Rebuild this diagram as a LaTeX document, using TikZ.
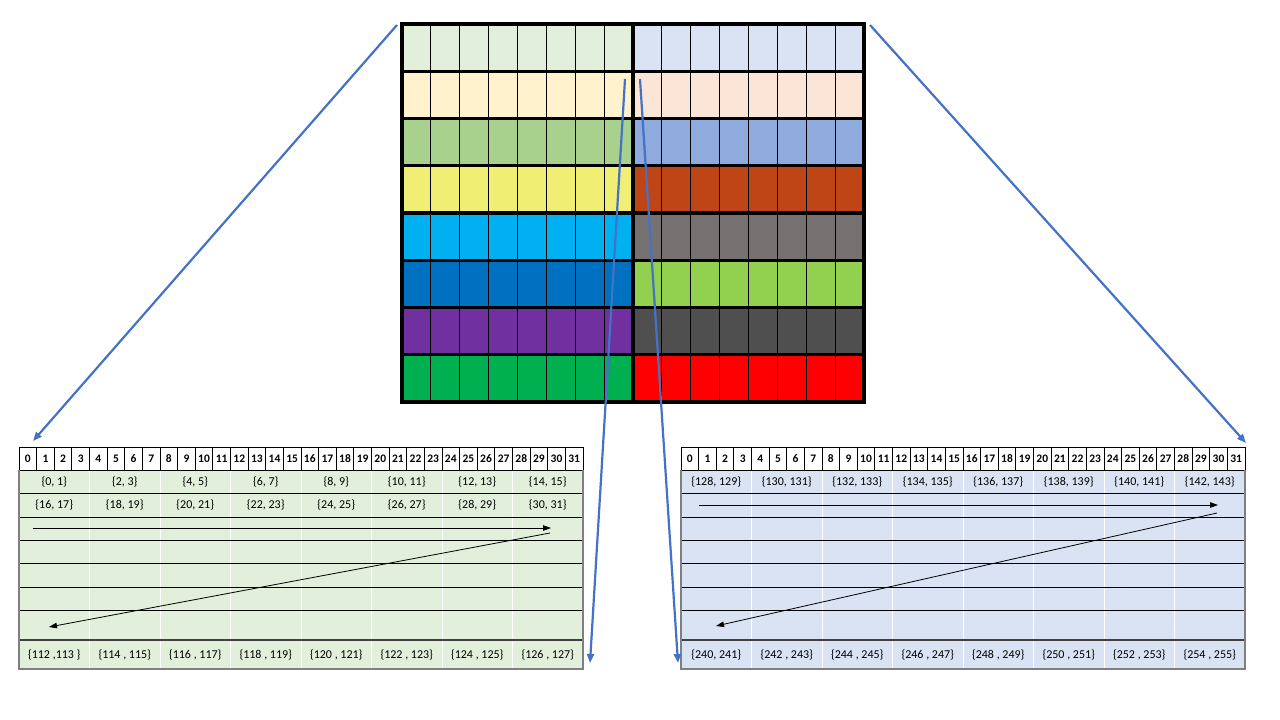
\documentclass[tikz,border=0pt]{standalone}
\usepackage{fontspec}
\setmainfont{Carlito}
\usetikzlibrary{arrows.meta}
\definecolor{gA}{HTML}{E2EFDA}\definecolor{bA}{HTML}{DAE3F3}
\definecolor{gB}{HTML}{FFF2CC}\definecolor{bB}{HTML}{FBE5D6}
\definecolor{gC}{HTML}{A9D18E}\definecolor{bC}{HTML}{8FAADC}
\definecolor{gD}{HTML}{F1EE74}\definecolor{bD}{HTML}{C04516}
\definecolor{gE}{HTML}{00B0F0}\definecolor{bE}{HTML}{767171}
\definecolor{gF}{HTML}{0070C0}\definecolor{bF}{HTML}{92D050}
\definecolor{gG}{HTML}{7030A0}\definecolor{bG}{HTML}{4F4F4F}
\definecolor{gH}{HTML}{00B050}\definecolor{bH}{HTML}{FF0000}
\definecolor{arrowblue}{HTML}{4472C4}
\definecolor{bordergray}{HTML}{7F7F7F}
\begin{document}
\begin{tikzpicture}[x=1pt,y=-1pt,
  bluearrow/.style={draw=arrowblue,line width=2.2pt,-{Triangle[length=9pt,width=7pt]}},
  blackarrow/.style={draw=black,line width=0.8pt,-{Triangle[length=8pt,width=5.5pt]}},
  hdr/.style={inner sep=0pt,font=\fontsize{11.5}{12}\selectfont\bfseries},
  cell/.style={inner sep=0pt,font=\fontsize{12}{13}\selectfont},
  thinline/.style={line width=0.8pt,black},
  thickline/.style={line width=3.3pt,black,line cap=rect},
]
\useasboundingbox (0,0) rectangle (1280,720);
\fill[white] (0,0) rectangle (1280,720);

% ---------- top grid ----------
\foreach \i/\cl/\cr in {0/gA/bA,1/gB/bB,2/gC/bC,3/gD/bD,4/gE/bE,5/gF/bF,6/gG/bG,7/gH/bH}{
  \fill[\cl] (402,{24+\i*47.25}) rectangle (633,{24+(\i+1)*47.25});
  \fill[\cr] (633,{24+\i*47.25}) rectangle (864,{24+(\i+1)*47.25});
}
\foreach \k in {1,...,7}{
  \draw[thinline] ({402+\k*28.875},24) -- ({402+\k*28.875},402);
  \draw[thinline] ({633+\k*28.875},24) -- ({633+\k*28.875},402);
}
\foreach \i in {0,...,8}{
  \draw[thickline] (402,{24+\i*47.25}) -- (864,{24+\i*47.25});
}
\draw[thickline] (402,24) -- (402,402);
\draw[thickline] (633,24) -- (633,402);
\draw[thickline] (864,24) -- (864,402);
\node[inner sep=0pt,minimum width=462pt,minimum height=378pt] (grid) at (633,213) {};

% ---------- tables ----------
\foreach \ox/\fc/\side in {19/gA/L,681/bA/R}{
  \begin{scope}[shift={(\ox-19,0)}]
    \fill[\fc] (19,470) rectangle (583,669);
    \foreach \k in {1,...,7}{
      \draw[white,line width=1pt] ({19+70.5*\k},470) -- ({19+70.5*\k},669);
    }
    \foreach \yy in {493,517,540,563,587,610}{
      \draw[thinline] (19,\yy) -- (583,\yy);
    }
    \draw[line width=1.5pt,black!75] (19,640) -- (583,640);
    \fill[white] (19,447) rectangle (583,470);
    \foreach \k in {0,...,32}{
      \draw[thinline] ({19+17.625*\k},447) -- ({19+17.625*\k},470);
    }
    \draw[thinline] (19,447) -- (583,447);
    \draw[thinline] (19,470) -- (583,470);
    \foreach \k in {0,...,31}{
      \node[hdr] (\side-h\k) at ({19+17.625*(\k+0.5)},458.5) {\k};
    }
    \draw[bordergray,line width=1.3pt] (19,470) -- (19,669);
    \draw[bordergray,line width=1.3pt] (583,470) -- (583,669);
    \draw[bordergray,line width=2pt] (18.4,669) -- (583.6,669);
  \end{scope}
}

% left table texts
\foreach \t [count=\k from 0] in {{\{0, 1\}},{\{2, 3\}},{\{4, 5\}},{\{6, 7\}},{\{8, 9\}},{\{10, 11\}},{\{12, 13\}},{\{14, 15\}}}{
  \node[cell] (L-a\k) at ({19+70.5*(\k+0.5)},481.5) {\t};
}
\foreach \t [count=\k from 0] in {{\{16, 17\}},{\{18, 19\}},{\{20, 21\}},{\{22, 23\}},{\{24, 25\}},{\{26, 27\}},{\{28, 29\}},{\{30, 31\}}}{
  \node[cell] (L-b\k) at ({19+70.5*(\k+0.5)},505) {\t};
}
\foreach \t [count=\k from 0] in {{\{112 ,113 \}},{\{114 , 115\}},{\{116 , 117\}},{\{118 , 119\}},{\{120 , 121\}},{\{122 , 123\}},{\{124 , 125\}},{\{126 , 127\}}}{
  \node[cell] (L-z\k) at ({19+70.5*(\k+0.5)},655) {\t};
}
% right table texts
\foreach \t [count=\k from 0] in {{\{128, 129\}},{\{130, 131\}},{\{132, 133\}},{\{134, 135\}},{\{136, 137\}},{\{138, 139\}},{\{140, 141\}},{\{142, 143\}}}{
  \node[cell] (R-a\k) at ({681+70.5*(\k+0.5)},481.5) {\t};
}
\foreach \t [count=\k from 0] in {{\{240, 241\}},{\{242 , 243\}},{\{244 , 245\}},{\{246 , 247\}},{\{248 , 249\}},{\{250 , 251\}},{\{252 , 253\}},{\{254 , 255\}}}{
  \node[cell] (R-z\k) at ({681+70.5*(\k+0.5)},655) {\t};
}

% ---------- inner arrows ----------
\coordinate (la1) at (33,528);   \coordinate (la2) at (551,528);
\coordinate (la3) at (550,533);  \coordinate (la4) at (49,627);
\coordinate (ra1) at (699,505);  \coordinate (ra2) at (1218,505);
\coordinate (ra3) at (1217,513); \coordinate (ra4) at (716,626);
\draw[blackarrow] (la1) -- (la2);
\draw[blackarrow] (la3) -- (la4);
\draw[blackarrow] (ra1) -- (ra2);
\draw[blackarrow] (ra3) -- (ra4);

% ---------- blue arrows ----------
\coordinate (s1) at (397,25);  \coordinate (e1) at (33,441);
\coordinate (s2) at (870,25);  \coordinate (e2) at (1246,443);
\coordinate (s3) at (625,79);  \coordinate (e3) at (590,663);
\coordinate (s4) at (640,79);  \coordinate (e4) at (678,663);
\draw[bluearrow] (s1) -- (e1);
\draw[bluearrow] (s2) -- (e2);
\draw[bluearrow] (s3) -- (e3);
\draw[bluearrow] (s4) -- (e4);
\end{tikzpicture}
\end{document}
